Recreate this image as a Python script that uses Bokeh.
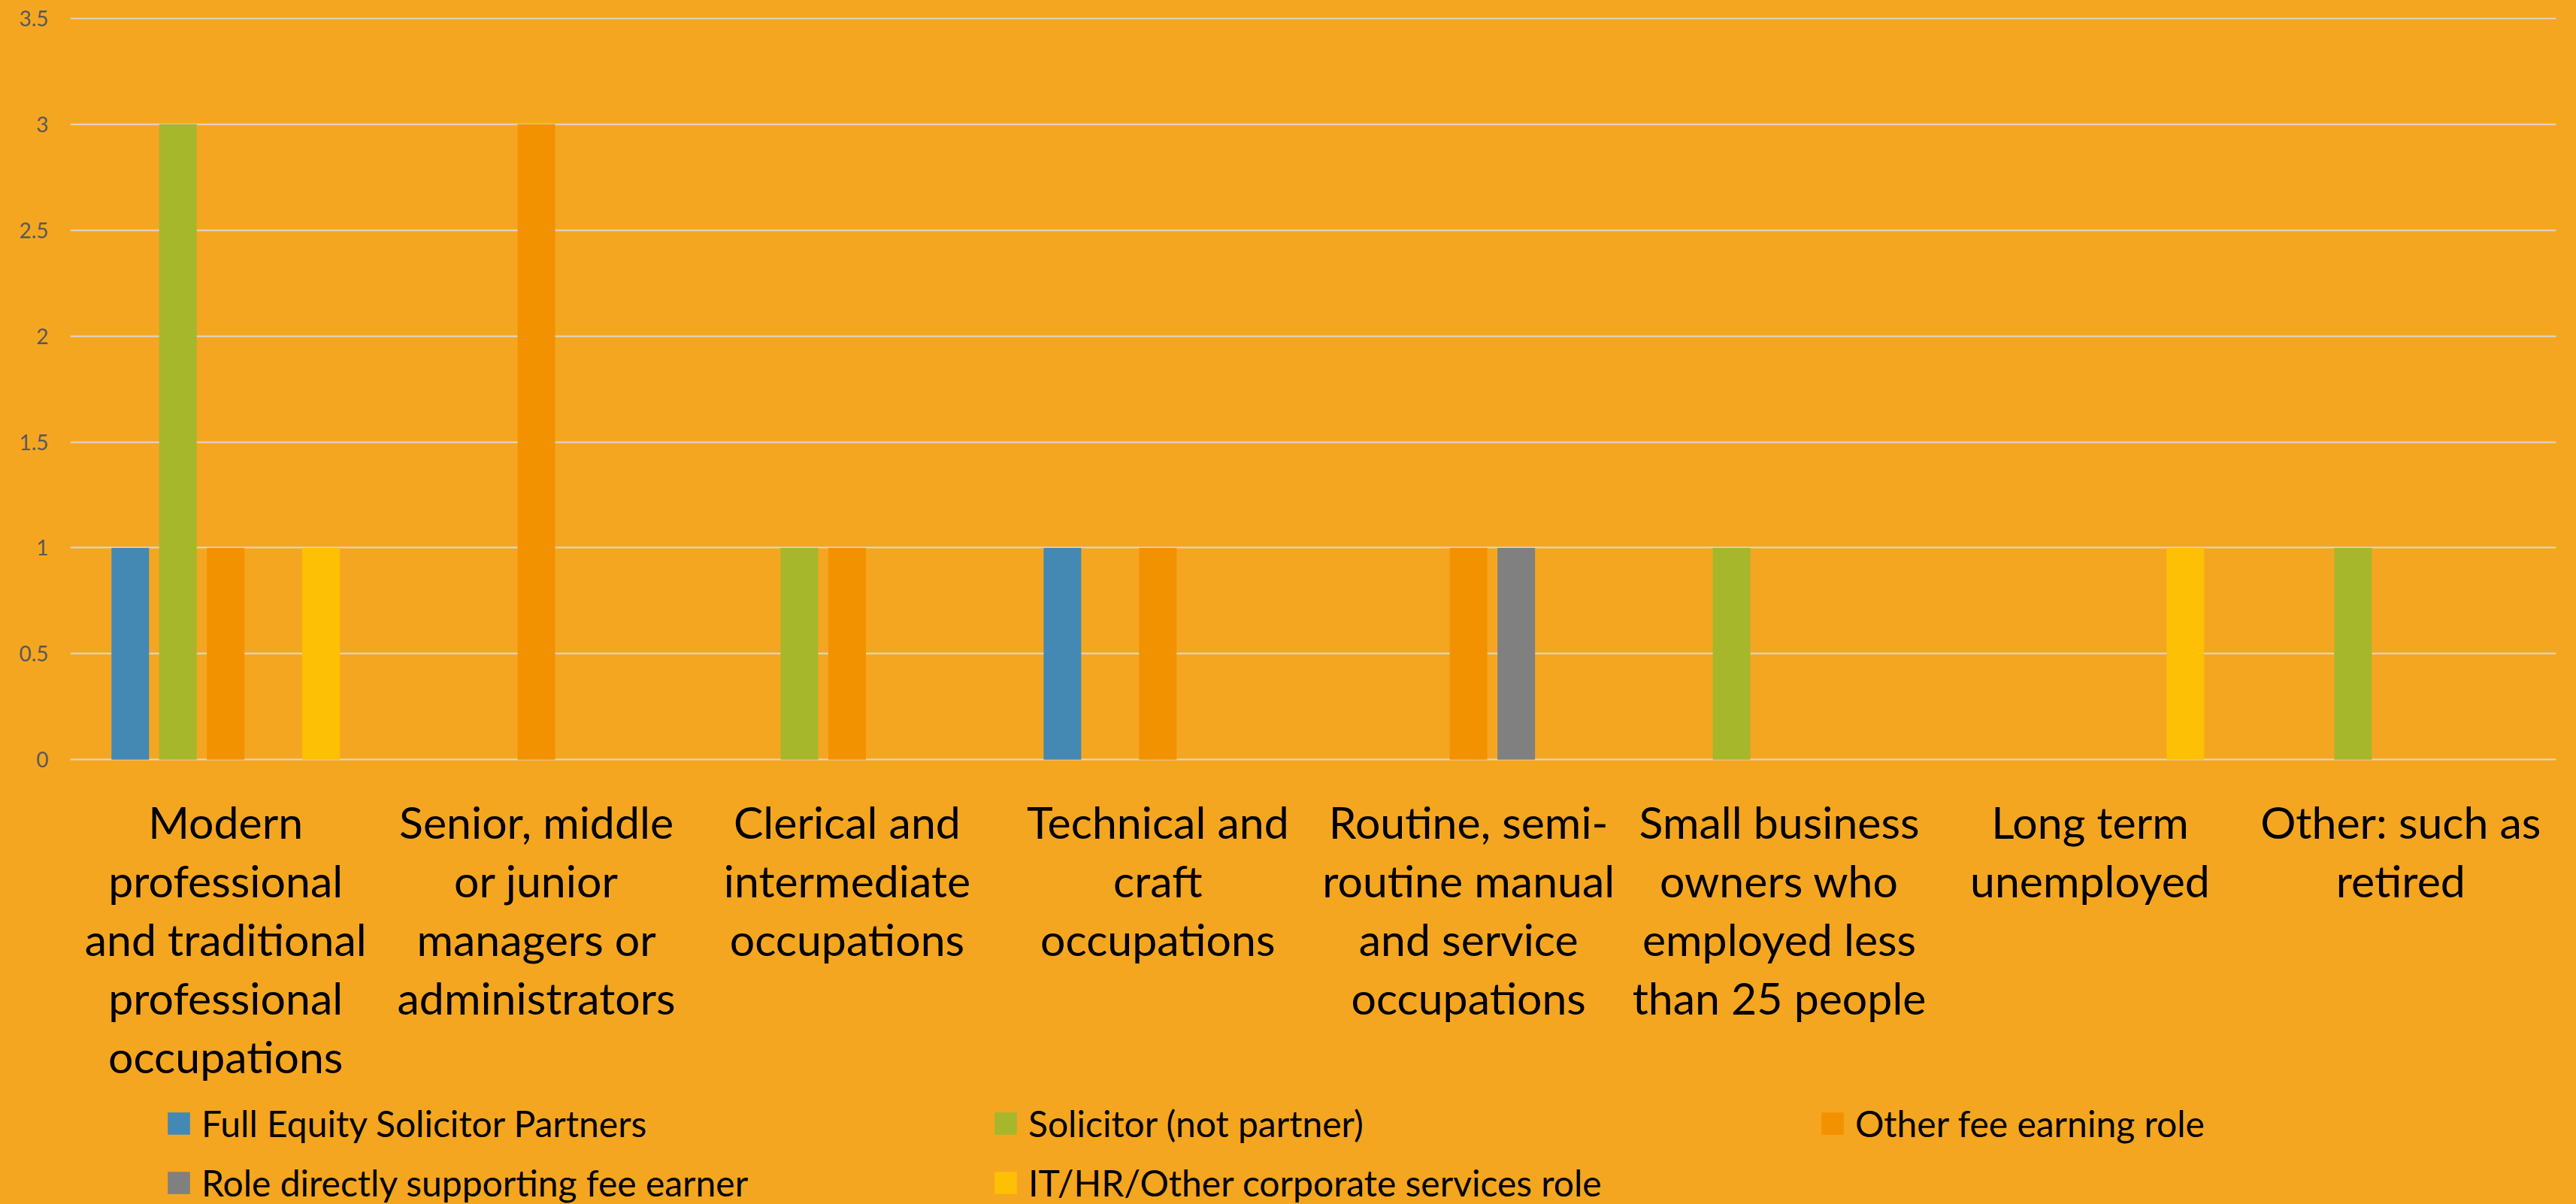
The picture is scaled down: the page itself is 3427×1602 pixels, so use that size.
from bokeh.plotting import figure
from bokeh.models import ColumnDataSource, FactorRange, Range1d, FixedTicker, Legend, LegendItem
from bokeh.transform import dodge
from bokeh.core.properties import value
from bokeh.embed import file_html
from bokeh.resources import INLINE

categories = [
    "Modern professional and traditional professional occupations",
    "Senior, middle or junior managers or administrators",
    "Clerical and intermediate occupations",
    "Technical and craft occupations",
    "Routine, semi-routine manual and service occupations",
    "Small business owners who employed less than 25 people",
    "Long term unemployed",
    "Other: such as retired",
]
category_labels = [
    "Modern\nprofessional\nand traditional\nprofessional\noccupations",
    "Senior, middle\nor junior\nmanagers or\nadministrators",
    "Clerical and\nintermediate\noccupations",
    "Technical and\ncraft\noccupations",
    "Routine, semi-\nroutine manual\nand service\noccupations",
    "Small business\nowners who\nemployed less\nthan 25 people",
    "Long term\nunemployed",
    "Other: such as\nretired",
]
series_names = [
    "Full Equity Solicitor Partners",
    "Solicitor (not partner)",
    "Other fee earning role",
    "Role directly supporting fee earner",
    "IT/HR/Other corporate services role",
]
full_equity = [1, 0, 0, 1, 0, 0, 0, 0]
solicitor = [3, 0, 1, 0, 0, 1, 0, 1]
other_fee = [1, 3, 1, 1, 1, 0, 0, 0]
role_support = [0, 0, 0, 0, 1, 0, 0, 0]
it_hr = [1, 0, 0, 0, 0, 0, 1, 0]
y_ticks = [0, 0.5, 1, 1.5, 2, 2.5, 3, 3.5]
y_tick_labels = ["0", "0.5", "1", "1.5", "2", "2.5", "3", "3.5"]

colors = ["#4389B4", "#A6B72B", "#F39200", "#808080", "#FDC005"]
BG = "#F5A620"
FONT = "Lato"

W, H = 3427, 1602
LEFT, TOP, RIGHT = 93, 23, 27
ZERO_Y = 1010  # pixel row of the value axis baseline
y_max = 3.5
px_per_unit = (ZERO_Y - TOP) / y_max
y_min = -(H - ZERO_Y) / px_per_unit

source = ColumnDataSource(dict(cat=categories, label=category_labels, s0=full_equity,
                               s1=solicitor, s2=other_fee, s3=role_support, s4=it_hr))

p = figure(x_range=FactorRange(*categories), y_range=Range1d(y_min, y_max + 0.003),
           width=W, height=H, output_backend="svg", toolbar_location=None,
           x_axis_location=None,
           min_border_left=LEFT, min_border_right=RIGHT, min_border_top=TOP,
           min_border_bottom=0)
p.background_fill_color = BG
p.border_fill_color = BG
p.outline_line_color = None

offsets = [-0.307, -0.1535, 0.0, 0.1535, 0.307]
renderers = []
for i in range(5):
    r = p.vbar(x=dodge("cat", offsets[i], range=p.x_range), top="s%d" % i,
               width=0.121, source=source, fill_color=colors[i], line_color=None)
    renderers.append(r)

# category labels below the baseline
p.text(x="cat", y=0, text="label", source=source, text_align="center",
       text_baseline="top", y_offset=47, text_font=value(FONT),
       text_font_size=value("59px"), text_line_height=1.10, text_color="#000000")

p.xgrid.grid_line_color = None
p.ygrid.grid_line_color = "#D9D9D9"
p.ygrid.grid_line_width = 2
p.yaxis.ticker = FixedTicker(ticks=y_ticks)
p.yaxis.major_label_overrides = {t: l for t, l in zip(y_ticks, y_tick_labels)}
p.yaxis.axis_line_color = None
p.yaxis.major_tick_line_color = None
p.yaxis.minor_tick_line_color = None
p.yaxis.major_tick_out = 0
p.yaxis.major_tick_in = 0
p.yaxis.major_label_text_font = FONT
p.yaxis.major_label_text_font_size = "28px"
p.yaxis.major_label_text_color = "#595959"
p.yaxis.major_label_standoff = 29

legend = Legend(items=[LegendItem(label=series_names[i], renderers=[renderers[i]]) for i in range(5)],
                location=(126, 0), orientation="horizontal", ncols=3,
                glyph_width=37, glyph_height=37, label_standoff=12,
                label_width=1030, label_height=58, spacing=21, padding=0, margin=0,
                background_fill_alpha=0, border_line_color=None,
                label_text_font=FONT, label_text_font_size="48px",
                label_text_color="#000000")
p.add_layout(legend, "center")

html = file_html(p, INLINE)
html = html.replace("</head>", "<style>html, body { background-color: %s; }</style></head>" % BG, 1)
open("out.html", "w").write(html)
